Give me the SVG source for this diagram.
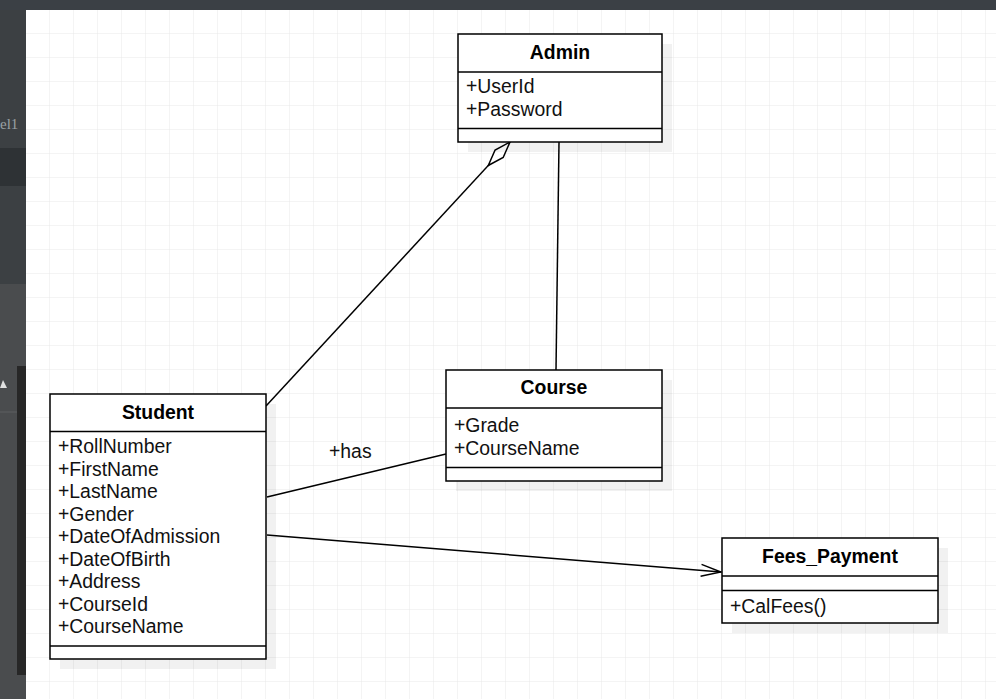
<svg xmlns="http://www.w3.org/2000/svg" width="996" height="699" viewBox="0 0 996 699">
<defs>
<pattern id="grid" x="26" y="10" width="24" height="24" patternUnits="userSpaceOnUse">
<path d="M24 0V24M0 24H24" fill="none" stroke="#e9e9e9" stroke-width="1"/>
</pattern>
<marker id="open" viewBox="0 0 22 14" refX="21" refY="7" markerWidth="22" markerHeight="14" markerUnits="userSpaceOnUse" orient="auto">
<path d="M1 1L21 7L1 13" fill="none" stroke="#000" stroke-width="1.5"/>
</marker>
<marker id="diamond" viewBox="0 0 34 14" refX="33" refY="7" markerWidth="34" markerHeight="14" markerUnits="userSpaceOnUse" orient="auto">
<path d="M1 7L17 1.5L33 7L17 12.5Z" fill="#fff" stroke="#000" stroke-width="1.5"/>
</marker>
</defs>
<style>
.box{fill:#fff;stroke:#000;stroke-width:1.5}
.sh{fill:#000;opacity:0.055}
.div{stroke:#000;stroke-width:1.5}
.t{font-family:"Liberation Sans",Arial,sans-serif;font-size:19.4px;font-weight:bold;text-anchor:middle;fill:#000}
.a{font-family:"Liberation Sans",Arial,sans-serif;font-size:19.4px;fill:#111}
.c{fill:none;stroke:#000;stroke-width:1.5}
</style>
<rect width="996" height="699" fill="#fff"/>
<rect x="26" y="10" width="970" height="689" fill="url(#grid)"/>
<g id="chrome">
<rect x="0" y="0" width="996" height="10" fill="#3b4045"/>
<rect x="0" y="10" width="26" height="138" fill="#3c4043"/>
<rect x="0" y="148" width="26" height="38" fill="#2e3235"/>
<rect x="0" y="186" width="26" height="98" fill="#3c4043"/>
<rect x="0" y="284" width="26" height="415" fill="#4a4c4e"/>
<rect x="17" y="366" width="9" height="309" fill="#272727"/>
<line x1="0" y1="412" x2="17" y2="412" stroke="#5d5f61" stroke-width="1"/>
<path d="M0 388L3 380L7 388Z" fill="#e0e0e0"/>
<text x="0" y="129" font-family="'Liberation Serif',serif" font-size="15" fill="#9aa0a4">el1</text>
</g>
<g id="connectors">
<line class="c" x1="266" y1="406" x2="510" y2="142" marker-end="url(#diamond)"/>
<line class="c" x1="559" y1="142" x2="556" y2="370"/>
<line class="c" x1="267" y1="497" x2="446" y2="454"/>
<text class="a" x="329" y="458">+has</text>
<line class="c" x1="267" y1="535" x2="721" y2="572" marker-end="url(#open)"/>
</g>
<g id="admin">
<rect class="sh" x="468" y="44" width="204" height="108"/>
<rect class="box" x="458" y="34" width="204" height="108"/>
<line class="div" x1="458" y1="72" x2="662" y2="72"/>
<line class="div" x1="458" y1="128.5" x2="662" y2="128.5"/>
<text class="t" x="560" y="59">Admin</text>
<text class="a" x="466" y="93">+UserId</text>
<text class="a" x="466" y="116">+Password</text>
</g>
<g id="course">
<rect class="sh" x="456" y="380" width="216" height="111"/>
<rect class="box" x="446" y="370" width="216" height="111"/>
<line class="div" x1="446" y1="408" x2="662" y2="408"/>
<line class="div" x1="446" y1="467.5" x2="662" y2="467.5"/>
<text class="t" x="554" y="394">Course</text>
<text class="a" x="454" y="432">+Grade</text>
<text class="a" x="454" y="455">+CourseName</text>
</g>
<g id="student">
<rect class="sh" x="60" y="404" width="216" height="265"/>
<rect class="box" x="50" y="394" width="216" height="265"/>
<line class="div" x1="50" y1="431.5" x2="266" y2="431.5"/>
<line class="div" x1="50" y1="646" x2="266" y2="646"/>
<text class="t" x="158" y="419">Student</text>
<text class="a" x="58" y="453">+RollNumber</text>
<text class="a" x="58" y="475.5">+FirstName</text>
<text class="a" x="58" y="498">+LastName</text>
<text class="a" x="58" y="520.5">+Gender</text>
<text class="a" x="58" y="543">+DateOfAdmission</text>
<text class="a" x="58" y="565.5">+DateOfBirth</text>
<text class="a" x="58" y="588">+Address</text>
<text class="a" x="58" y="610.5">+CourseId</text>
<text class="a" x="58" y="633">+CourseName</text>
</g>
<g id="fees_payment">
<rect class="sh" x="732" y="548" width="216" height="85"/>
<rect class="box" x="722" y="538" width="216" height="85"/>
<line class="div" x1="722" y1="576" x2="938" y2="576"/>
<line class="div" x1="722" y1="590.5" x2="938" y2="590.5"/>
<text class="t" x="830" y="563">Fees_Payment</text>
<text class="a" x="730" y="613">+CalFees()</text>
</g>
</svg>
